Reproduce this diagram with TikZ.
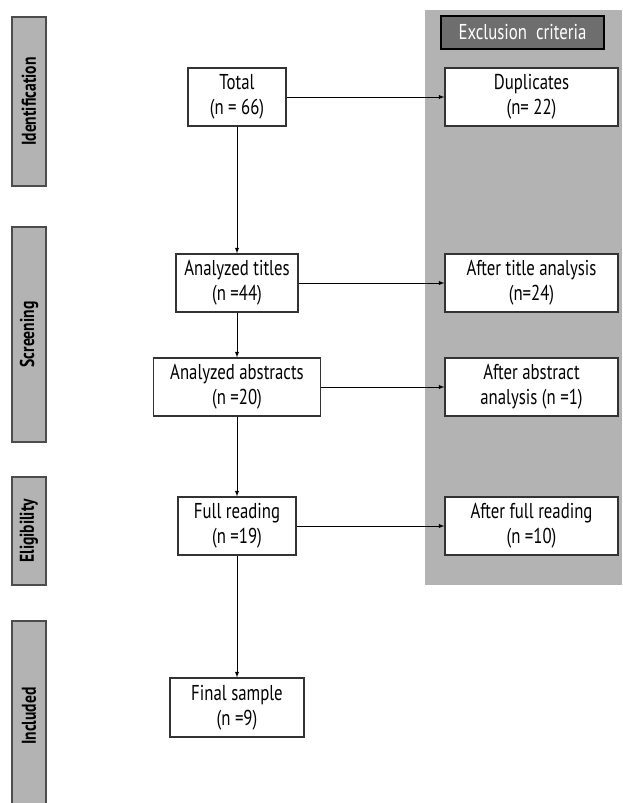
\documentclass[tikz,border=0pt]{standalone}
\usepackage{fontspec}
\setmainfont[FakeStretch=0.78]{PT Sans}
\usetikzlibrary{positioning}

\definecolor{bandgray}{HTML}{B3B3B3}
\definecolor{headgray}{HTML}{6E6E6E}
\definecolor{edgegray}{HTML}{333333}

\begin{document}
\begin{tikzpicture}[x=1pt,y=-1pt,
        box/.style={draw=edgegray,fill=white,line width=1.1pt,align=center,
            minimum height=58pt,inner sep=2pt,
            font=\fontsize{21.5}{25}\selectfont},
        exbox/.style={box,minimum width=173pt},
        phase/.style={draw=black!70,fill=bandgray,line width=1.2pt,
            minimum height=34pt,rotate=90,
            font=\bfseries\fontsize{20}{22}\selectfont},
        flow/.style={line width=0.9pt,-latex}
    ]
\useasboundingbox (0,0) rectangle (622,803);
% grey band of the exclusion column
\fill[bandgray] (425,10) rectangle (622,585);
\node[draw=black,line width=2pt,fill=headgray,text=white,
    minimum width=163pt,minimum height=33pt,
    font=\fontsize{21.5}{22}\selectfont] (head) at (522.5,32.5)
    {Exclusion\ \ criteria};

% phases
\node[phase,minimum width=169pt] (ident) at (29,101.5) {Identification};
\node[phase,minimum width=215pt] (screen) at (29,334.5) {Screening};
\node[phase,minimum width=108pt] (elig) at (29,531) {Eligibility};
\node[phase,minimum width=190pt] (incl) at (29,716) {Included};

% main column
\node[box,minimum width=98pt] (total) at (237,97) {Total\\(n = 66)};
\node[box,minimum width=122pt] (titles) at (237,283) {Analyzed titles\\(n =44)};
\node[box,minimum width=167pt] (abstr) at (237,387) {Analyzed abstracts\\(n =20)};
\node[box,minimum width=118pt] (full) at (237,526) {Full reading\\(n =19)};
\node[box,minimum width=134pt,minimum height=59pt] (final) at (237,707.5)
    {Final sample\\(n =9)};

% exclusions
\node[exbox] (dupl) at (531.5,97) {Duplicates\\(n= 22)};
\node[exbox] (extitle) at (531.5,283) {After title analysis\\(n=24)};
\node[exbox] (exabstr) at (531.5,387) {After abstract\\analysis (n =1)};
\node[exbox] (exfull) at (531.5,526) {After full reading\\(n =10)};

\draw[flow] (total) -- (titles);
\draw[flow] (titles) -- (abstr);
\draw[flow] (abstr) -- (full);
\draw[flow] (full) -- (final);
\draw[flow] (total) -- (dupl);
\draw[flow] (titles) -- (extitle);
\draw[flow] (abstr) -- (exabstr);
\draw[flow] (full) -- (exfull);
\end{tikzpicture}
\end{document}
